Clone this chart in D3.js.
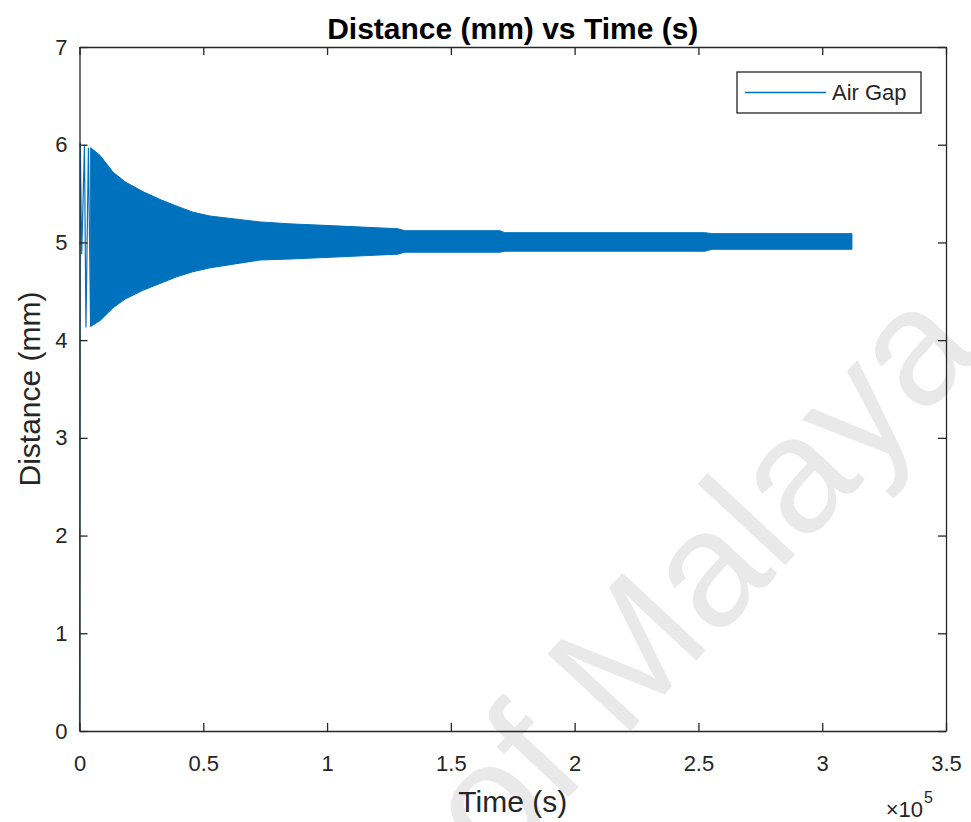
<!DOCTYPE html>
<html>
<head>
<meta charset="utf-8">
<script src="https://cdn.jsdelivr.net/npm/d3@7"></script>
<style>
  html, body { margin: 0; padding: 0; background: #fff; }
  svg { display: block; font-family: "Liberation Sans", Arial, Helvetica, sans-serif; }
</style>
</head>
<body>
<svg id="chart" width="971" height="822"></svg>
<script>
// Air gap response: envelope of the fast oscillation (time in s, distance in mm)
const envTime  = [4500, 8300, 13500, 18400, 25600, 32500, 39400, 45800, 52700, 62800,
                  72900, 85000, 103200, 128600, 131400, 169800, 171800, 252600, 255400, 312000];
const envUpper = [5.97, 5.89, 5.72, 5.62, 5.52, 5.44, 5.37, 5.31, 5.27, 5.24,
                  5.21, 5.19, 5.17, 5.14, 5.12, 5.12, 5.10, 5.10, 5.09, 5.09];
const envLower = [4.14, 4.20, 4.33, 4.42, 4.51, 4.58, 4.65, 4.70, 4.74, 4.78,
                  4.82, 4.83, 4.85, 4.88, 4.90, 4.90, 4.91, 4.91, 4.93, 4.93];

// Start-up swings before the oscillation settles into the band
const startTime = [0, 300, 900, 2000, 2600, 3600, 4500];
const startDist = [0, 6.02, 4.88, 6.00, 4.13, 5.97, 4.14];

const xTicks = [0, 50000, 100000, 150000, 200000, 250000, 300000, 350000];
const yTicks = [0, 1, 2, 3, 4, 5, 6, 7];
const xExponent = 5;

const seriesName = "Air Gap";
const titleText = "Distance (mm) vs Time (s)";
const xLabel = "Time (s)";
const yLabel = "Distance (mm)";
const watermarkText = "University of Malaya";

const lineColor = "#0072BD";
const axisColor = "#262626";

const plotLeft = 79.5, plotRight = 946, plotTop = 47, plotBottom = 731;

const svg = d3.select("#chart");

const x = d3.scaleLinear().domain([0, 350000]).range([plotLeft, plotRight]);
const y = d3.scaleLinear().domain([0, 7]).range([plotBottom, plotTop]);

// watermark
svg.append("text")
  .attr("transform", "translate(984,352) rotate(-47)")
  .attr("text-anchor", "end")
  .attr("font-size", 165)
  .attr("fill", "#e9e9e9")
  .text(watermarkText);

// data
const envData = envTime.map((t, i) => ({ t, hi: envUpper[i], lo: envLower[i] }));
const area = d3.area()
  .x(d => x(d.t))
  .y0(d => y(d.lo))
  .y1(d => y(d.hi));
svg.append("path")
  .datum(envData)
  .attr("d", area)
  .attr("fill", lineColor)
  .attr("stroke", lineColor)
  .attr("stroke-width", 1);

const startData = startTime.map((t, i) => ({ t, d: startDist[i] }));
svg.append("path")
  .datum(startData)
  .attr("d", d3.line().x(d => x(d.t)).y(d => y(d.d)))
  .attr("fill", "none")
  .attr("stroke", lineColor)
  .attr("stroke-width", 1.2);

// axes (ticks point inwards, mirrored on top and right)
const fmtX = v => d3.format("~g")(v / Math.pow(10, xExponent));
function styleAxis(g) {
  g.attr("font-family", null).attr("font-size", null);
  g.selectAll(".domain").attr("stroke", axisColor).attr("stroke-width", 1.3).attr("fill", "none");
  g.selectAll(".tick line").attr("stroke", axisColor).attr("stroke-width", 1.3);
  g.selectAll(".tick text").attr("fill", axisColor).attr("font-size", 22);
}
svg.append("g")
  .attr("transform", `translate(0,${plotBottom})`)
  .call(d3.axisBottom(x).tickValues(xTicks).tickFormat(fmtX).tickSizeInner(-8).tickSizeOuter(0).tickPadding(24))
  .call(styleAxis);
svg.append("g")
  .attr("transform", `translate(0,${plotTop})`)
  .call(d3.axisTop(x).tickValues(xTicks).tickFormat("").tickSizeInner(-8).tickSizeOuter(0))
  .call(styleAxis);
svg.append("g")
  .attr("transform", `translate(${plotLeft},0)`)
  .call(d3.axisLeft(y).tickValues(yTicks).tickFormat(d3.format("d")).tickSizeInner(-8).tickSizeOuter(0).tickPadding(12))
  .call(styleAxis);
svg.append("g")
  .attr("transform", `translate(${plotRight},0)`)
  .call(d3.axisRight(y).tickValues(yTicks).tickFormat("").tickSizeInner(-8).tickSizeOuter(0))
  .call(styleAxis);

// exponent label
svg.append("text")
  .attr("x", 923).attr("y", 817)
  .attr("text-anchor", "end")
  .attr("font-size", 22)
  .attr("fill", axisColor)
  .text("\u00d710");
svg.append("text")
  .attr("x", 924).attr("y", 803)
  .attr("font-size", 16)
  .attr("fill", axisColor)
  .text(String(xExponent));

// title and axis labels
svg.append("text")
  .attr("x", (plotLeft + plotRight) / 2).attr("y", 39)
  .attr("text-anchor", "middle")
  .attr("font-size", 30).attr("font-weight", "bold")
  .attr("fill", "#000")
  .text(titleText);
svg.append("text")
  .attr("x", (plotLeft + plotRight) / 2).attr("y", 812)
  .attr("text-anchor", "middle")
  .attr("font-size", 30)
  .attr("fill", axisColor)
  .text(xLabel);
svg.append("text")
  .attr("transform", `translate(40,${(plotTop + plotBottom) / 2}) rotate(-90)`)
  .attr("text-anchor", "middle")
  .attr("font-size", 30)
  .attr("fill", axisColor)
  .text(yLabel);

// legend
const lg = svg.append("g");
lg.append("rect")
  .attr("x", 737).attr("y", 72).attr("width", 184).attr("height", 41)
  .attr("fill", "#fff").attr("stroke", axisColor).attr("stroke-width", 1.3);
lg.append("line")
  .attr("x1", 745).attr("x2", 826).attr("y1", 92.5).attr("y2", 92.5)
  .attr("stroke", lineColor).attr("stroke-width", 1.5);
lg.append("text")
  .attr("x", 832).attr("y", 92.5).attr("dy", "0.35em")
  .attr("font-size", 22)
  .attr("fill", axisColor)
  .text(seriesName);
</script>
</body>
</html>
